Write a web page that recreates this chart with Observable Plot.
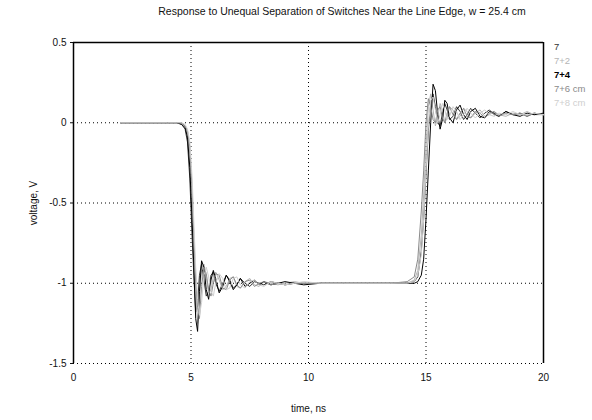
<!DOCTYPE html>
<html>
<head>
<meta charset="utf-8">
<script src="https://cdn.jsdelivr.net/npm/d3@7"></script>
<script src="https://cdn.jsdelivr.net/npm/@observablehq/plot@0.6"></script>
<style>
  html, body { margin: 0; padding: 0; background: #fff; }
  #chart { position: relative; width: 592px; height: 420px; font-family: "Liberation Sans", Arial, sans-serif; }
  #title { position: absolute; left: 0; width: 684px; top: 5px; text-align: center; font-size: 10.5px; color: #111; }
  #legend { position: absolute; left: 554px; top: 40px; font-size: 9.5px; line-height: 14px; }
</style>
</head>
<body>
<div id="chart">
  <div id="title">Response to Unequal Separation of Switches Near the Line Edge, w = 25.4 cm</div>
  <div id="legend"></div>
</div>
<script>
// Switch separations (series names) and their trace colours
const seriesNames = ["7", "7+2", "7+4", "7+6 cm", "7+8 cm"];
const seriesColors = ["#333333", "#b5b5b5", "#000000", "#8a8a8a", "#cfcfcf"];

// Tick values
const xTicks = [0, 5, 10, 15, 20];
const yTicks = [0.5, 0, -0.5, -1, -1.5];

// Sample times, ns
const time = [2.0, 4.0, 4.4, 4.6, 4.75, 4.85, 4.95, 5.05, 5.12, 5.2, 5.28, 5.36, 5.45, 5.55, 5.65, 5.75, 5.85, 5.95, 6.05, 6.2, 6.35, 6.5, 6.65, 6.8, 6.95, 7.1, 7.3, 7.5, 7.7, 7.9, 8.1, 8.4, 8.7, 9.0, 9.4, 9.8, 10.5, 11.5, 12.5, 13.5, 14.2, 14.5, 14.65, 14.8, 14.9, 15.0, 15.1, 15.2, 15.3, 15.4, 15.5, 15.6, 15.7, 15.8, 15.9, 16.0, 16.15, 16.3, 16.45, 16.6, 16.75, 16.9, 17.1, 17.3, 17.5, 17.7, 17.9, 18.1, 18.4, 18.7, 19.0, 19.3, 19.6, 20.0];

// Voltages, V, one array per separation
const v7 = [0, 0, 0, -0.01, -0.04, -0.12, -0.35, -0.72, -0.95, -1.18, -1.12, -0.95, -0.88, -0.98, -1.08, -1.05, -0.95, -0.93, -1.0, -1.05, -1.0, -0.95, -0.98, -1.03, -1.01, -0.97, -1.0, -1.02, -0.99, -1.0, -1.01, -0.99, -1.0, -1.01, -1.0, -1.0, -1.0, -1.0, -1.0, -1.0, -1.0, -0.99, -0.96, -0.8, -0.6, -0.32, -0.05, 0.12, 0.18, 0.1, 0.0, -0.02, 0.06, 0.12, 0.08, 0.02, 0.04, 0.1, 0.07, 0.02, 0.05, 0.09, 0.06, 0.03, 0.06, 0.08, 0.05, 0.04, 0.07, 0.05, 0.06, 0.04, 0.06, 0.05];
const v7p2 = [0, 0, 0, 0, -0.02, -0.06, -0.2, -0.5, -0.8, -1.05, -1.25, -1.1, -0.92, -0.88, -0.97, -1.06, -1.04, -0.96, -0.93, -0.98, -1.04, -1.02, -0.97, -0.96, -1.02, -1.03, -0.99, -0.97, -1.01, -1.02, -0.99, -1.0, -1.01, -1.0, -0.99, -1.0, -1.0, -1.0, -1.0, -1.0, -1.0, -0.98, -0.92, -0.7, -0.45, -0.15, 0.1, 0.18, 0.08, -0.02, 0.04, 0.12, 0.08, 0.0, 0.03, 0.1, 0.08, 0.02, 0.04, 0.09, 0.07, 0.03, 0.06, 0.08, 0.04, 0.05, 0.07, 0.05, 0.04, 0.06, 0.05, 0.07, 0.05, 0.05];
const v7p4 = [0, 0, 0, -0.01, -0.03, -0.09, -0.28, -0.62, -0.9, -1.22, -1.3, -1.05, -0.86, -0.9, -1.04, -1.1, -0.98, -0.92, -0.97, -1.06, -1.02, -0.95, -0.99, -1.04, -1.01, -0.97, -1.02, -1.0, -0.98, -1.01, -0.99, -1.01, -1.0, -0.99, -1.0, -1.01, -1.0, -1.0, -1.0, -1.0, -1.0, -1.0, -0.99, -0.95, -0.85, -0.6, -0.3, 0.0, 0.24, 0.2, 0.05, -0.04, 0.02, 0.14, 0.12, 0.03, 0.0, 0.08, 0.11, 0.05, 0.02, 0.07, 0.09, 0.04, 0.03, 0.07, 0.06, 0.04, 0.07, 0.05, 0.04, 0.06, 0.05, 0.06];
const v7p6 = [0, 0, 0, 0, -0.02, -0.05, -0.15, -0.42, -0.7, -0.98, -1.15, -1.22, -1.02, -0.9, -0.94, -1.04, -1.08, -1.0, -0.94, -0.95, -1.03, -1.04, -0.98, -0.96, -1.01, -1.03, -0.99, -0.98, -1.02, -1.0, -0.99, -1.01, -1.0, -1.01, -1.0, -1.0, -1.0, -1.0, -1.0, -1.0, -0.99, -0.96, -0.85, -0.55, -0.3, 0.0, 0.15, 0.1, 0.02, 0.0, 0.08, 0.1, 0.03, 0.0, 0.06, 0.1, 0.05, 0.02, 0.06, 0.09, 0.04, 0.03, 0.07, 0.06, 0.03, 0.06, 0.07, 0.04, 0.06, 0.05, 0.06, 0.04, 0.06, 0.05];
const v7p8 = [0, 0, 0, 0, -0.01, -0.04, -0.12, -0.35, -0.62, -0.9, -1.1, -1.2, -1.12, -0.95, -0.9, -0.96, -1.05, -1.08, -1.0, -0.94, -0.97, -1.04, -1.03, -0.97, -0.96, -1.01, -1.03, -0.99, -0.98, -1.01, -1.02, -0.99, -1.0, -1.01, -1.0, -0.99, -1.0, -1.0, -1.0, -1.0, -1.0, -0.99, -0.95, -0.82, -0.6, -0.3, -0.02, 0.14, 0.16, 0.08, 0.0, 0.05, 0.12, 0.08, 0.02, 0.04, 0.1, 0.07, 0.02, 0.05, 0.09, 0.06, 0.03, 0.06, 0.08, 0.05, 0.04, 0.06, 0.05, 0.07, 0.05, 0.05, 0.06, 0.05];

const seriesValues = [v7, v7p2, v7p4, v7p6, v7p8];

// Long-format table for the line mark
const rows = seriesNames.flatMap((name, i) =>
  time.map((t, j) => ({series: name, t, v: seriesValues[i][j]}))
);

const gridX = xTicks.slice(1, -1);
const gridY = yTicks.slice(1);

const chart = Plot.plot({
  width: 592,
  height: 420,
  marginLeft: 73,
  marginRight: 49,
  marginTop: 42,
  marginBottom: 57,
  style: {fontFamily: "'Liberation Sans', Arial, sans-serif", fontSize: "10px", color: "#111", background: "#fff"},
  x: {domain: [0, 20], ticks: xTicks, tickSize: 0, tickPadding: 10, label: "time, ns", labelAnchor: "center", labelArrow: "none", labelOffset: 48},
  y: {domain: [-1.5, 0.5], ticks: yTicks, tickSize: 3, tickPadding: 4, label: "voltage, V", labelAnchor: "center", labelArrow: "none", labelOffset: 44,
      tickFormat: d => d === 0 ? "0" : String(d)},
  color: {domain: seriesNames, range: seriesColors},
  marks: [
    Plot.ruleX(gridX, {stroke: "#000", strokeDasharray: "1,3", strokeWidth: 1}),
    Plot.ruleY(gridY, {stroke: "#000", strokeDasharray: "1,3", strokeWidth: 1}),
    Plot.ruleY([yTicks[0]], {stroke: "#000", strokeWidth: 1.5}),
    Plot.ruleX([xTicks[0], xTicks[xTicks.length - 1]], {stroke: "#000", strokeWidth: 1.5}),
    Plot.line(rows, {x: "t", y: "v", z: "series", stroke: "series", strokeWidth: 1, curve: "linear"})
  ]
});

const host = document.getElementById("chart");
chart.style.position = "absolute";
chart.style.left = "0";
chart.style.top = "0";
host.insertBefore(chart, host.firstChild);

// Legend: one text line per trace, in the trace colour
const legend = document.getElementById("legend");
seriesNames.forEach((name, i) => {
  const row = document.createElement("div");
  row.textContent = name;
  row.style.color = seriesColors[i];
  if (i === 2) row.style.fontWeight = "bold";
  legend.appendChild(row);
});
</script>
</body>
</html>
